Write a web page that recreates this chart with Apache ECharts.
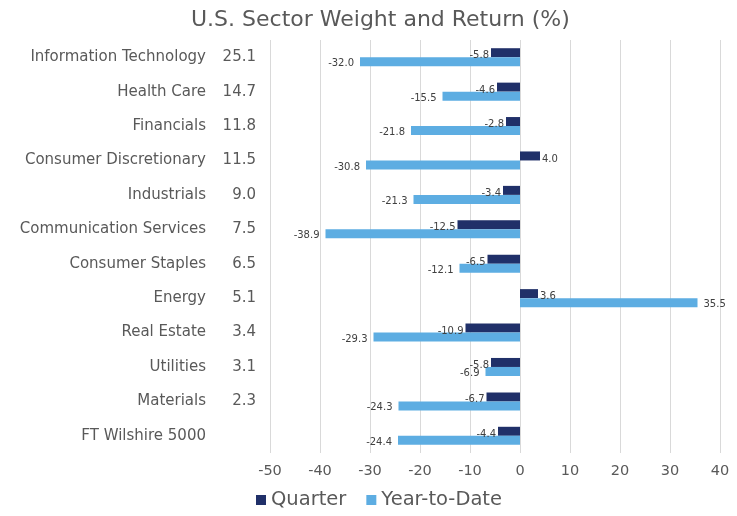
<!DOCTYPE html>
<html>
<head>
<meta charset="utf-8">
<script src="https://cdn.jsdelivr.net/npm/echarts@6/dist/echarts.min.js"></script>
<style>
  html, body { margin: 0; padding: 0; background: #fff; }
  #chart { width: 737px; height: 516px; }
</style>
</head>
<body>
<div id="chart"></div>
<script>
// --- data ---
const sectors = ['Information Technology', 'Health Care', 'Financials', 'Consumer Discretionary', 'Industrials',
  'Communication Services', 'Consumer Staples', 'Energy', 'Real Estate', 'Utilities', 'Materials', 'FT Wilshire 5000'];
const weights = ['25.1', '14.7', '11.8', '11.5', '9.0', '7.5', '6.5', '5.1', '3.4', '3.1', '2.3', ''];
const quarter = [-5.8, -4.6, -2.8, 4.0, -3.4, -12.5, -6.5, 3.6, -10.9, -5.8, -6.7, -4.4];
const ytd = [-32.0, -15.5, -21.8, -30.8, -21.3, -38.9, -12.1, 35.5, -29.3, -6.9, -24.3, -24.4];

const font = 'DejaVu Sans, Verdana, sans-serif';
const withLabelSide = arr => arr.map(v => ({
  value: v,
  label: { position: v < 0 ? 'left' : 'right' },
}));

const chart = echarts.init(document.getElementById('chart'));
chart.setOption({
  animation: false,
  title: {
    text: 'U.S. Sector Weight and Return (%)',
    left: 186, top: 4,
    textStyle: { color: '#595959', fontSize: 22, fontWeight: 'normal', fontFamily: font },
  },
  legend: {
    data: ['Quarter', 'Year-to-Date'],
    bottom: 1, left: 251,
    itemWidth: 10, itemHeight: 10, itemGap: 20,
    icon: 'rect',
    textStyle: { color: '#595959', fontSize: 19.5, fontFamily: font },
  },
  grid: { left: 270, right: 17, top: 40, bottom: 63 },
  xAxis: {
    type: 'value', min: -50, max: 40, interval: 10,
    axisLine: { show: false },
    axisTick: { show: false },
    axisLabel: { color: '#595959', fontSize: 14.5, fontFamily: font, margin: 11 },
    splitLine: { lineStyle: { color: '#d9d9d9', width: 1 } },
  },
  yAxis: {
    type: 'category', inverse: true,
    data: sectors,
    axisLine: { show: false },
    axisTick: { show: false },
    axisLabel: {
      margin: 14,
      formatter: (v, i) => `{n|${v}}{w|${weights[i]}}`,
      rich: {
        n: { width: 200, align: 'right', color: '#595959', fontSize: 15, fontFamily: font },
        w: { width: 50, align: 'right', color: '#595959', fontSize: 15, fontFamily: font },
      },
    },
  },
  series: [
    {
      name: 'Quarter', type: 'bar', data: withLabelSide(quarter),
      barWidth: 9, barGap: '0%',
      itemStyle: { color: '#203069' },
      label: { show: true, color: '#404040', fontSize: 10, fontFamily: font, distance: 2, offset: [0, 3], formatter: p => p.value.toFixed(1) },
    },
    {
      name: 'Year-to-Date', type: 'bar', data: withLabelSide(ytd),
      barWidth: 9,
      itemStyle: { color: '#5dade2' },
      label: { show: true, color: '#404040', fontSize: 10, fontFamily: font, distance: 6, offset: [0, 2], formatter: p => p.value.toFixed(1) },
    },
  ],
});
</script>
</body>
</html>
